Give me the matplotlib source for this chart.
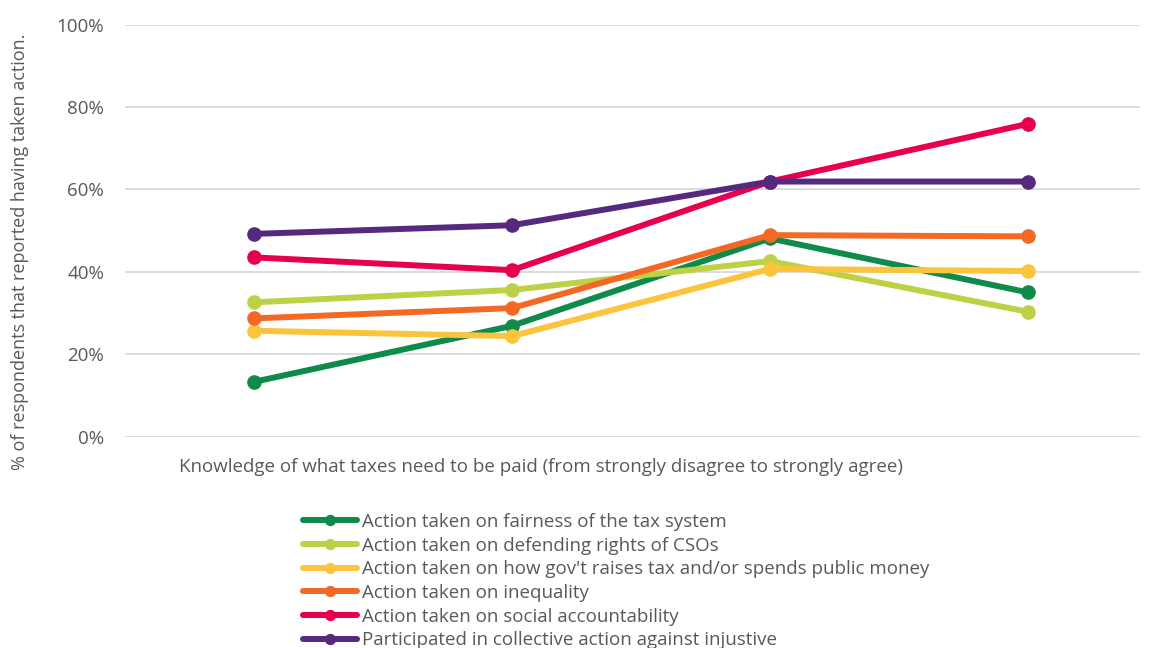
import matplotlib
matplotlib.use("Agg")
import matplotlib.pyplot as plt
from matplotlib.ticker import PercentFormatter

# Share of respondents reporting action, by knowledge level (4 levels)
levels = [1, 2, 3, 4]
fairness = [13.3, 26.9, 48.1, 35.0]
cso_rights = [32.6, 35.6, 42.6, 30.3]
govt_tax_spend = [25.7, 24.4, 40.7, 40.2]
inequality = [28.7, 31.2, 48.9, 48.6]
social_acc = [43.5, 40.4, 61.9, 75.9]
collective = [49.2, 51.3, 61.9, 61.9]

labels = [
    "Action taken on fairness of the tax system",
    "Action taken on defending rights of CSOs",
    "Action taken on how gov't raises tax and/or spends public money",
    "Action taken on inequality",
    "Action taken on social accountability",
    "Participated in collective action against injustive",
]
colors = ["#0E8A4A", "#BDD046", "#FCC43C", "#F26824", "#E6004F", "#552A7E"]
series = [fairness, cso_rights, govt_tax_spend, inequality, social_acc, collective]

plt.rcParams['font.family'] = ['Open Sans', 'DejaVu Sans']
grey = "#595959"
fs = 13.5

fig = plt.figure(figsize=(11.52, 6.48), dpi=100)
ax = fig.add_axes([125 / 1152, 1 - 436.7 / 648, 1015 / 1152, 412.2 / 648])

for vals, lab, col in zip(series, labels, colors):
    ax.plot(levels, vals, color=col, lw=4.3, marker='o', ms=9.5,
            solid_capstyle='round', label=lab)

ax.set_ylim(0, 100)
ax.set_xlim(0.5, 4.434)
ax.set_yticks([0, 20, 40, 60, 80, 100])
ax.yaxis.set_major_formatter(PercentFormatter(decimals=0))
ax.set_xticks([])
ax.tick_params(axis='y', length=0, pad=15, labelsize=fs, labelcolor=grey)
ax.grid(axis='y', color="#D9D9D9", lw=1.3)
ax.set_axisbelow(True)
for s in ax.spines.values():
    s.set_visible(False)

fig.text(541 / 1152, 1 - 467 / 648, "Knowledge of what taxes need to be paid (from strongly disagree to strongly agree)",
         ha='center', va='center', fontsize=fs, color=grey)
fig.text(20 / 1152, 1 - 252 / 648, "% of respondents that reported having taken action.",
         ha='center', va='center', rotation=90, fontsize=13, color=grey)

handles, labs = ax.get_legend_handles_labels()
leg = fig.legend(handles, labs, loc='upper left', bbox_to_anchor=(303 / 1152, 1 - 513 / 648),
                 frameon=False, fontsize=fs, handlelength=2.9, handletextpad=0.27,
                 labelspacing=0.3, borderaxespad=0, borderpad=0, markerscale=0.75)
for t in leg.get_texts():
    t.set_color(grey)

fig.savefig("out.png", dpi=100)
